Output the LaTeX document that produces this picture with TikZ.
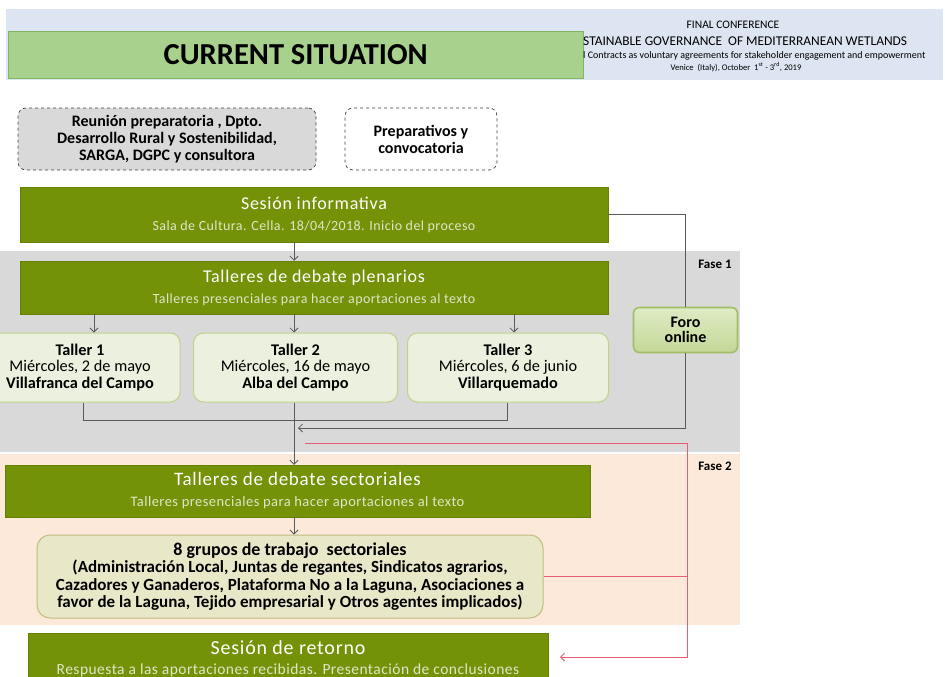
\documentclass[tikz,border=0pt]{standalone}
\usepackage{fontspec}
\setmainfont{Carlito}
\newfontfamily\spc[LetterSpace=4]{Carlito}
\newfontfamily\spcs[LetterSpace=3]{Carlito}
\usetikzlibrary{arrows.meta}
\definecolor{headerBG}{RGB}{220,229,241}
\definecolor{hdrG}{RGB}{169,209,142}
\definecolor{hdrB}{RGB}{130,180,100}
\definecolor{oliveG}{RGB}{116,146,8}
\definecolor{oliveB}{RGB}{100,130,0}
\definecolor{subG}{RGB}{222,230,200}
\definecolor{faseA}{RGB}{217,217,217}
\definecolor{faseB}{RGB}{252,233,218}
\definecolor{tallerF}{RGB}{235,241,222}
\definecolor{tallerB}{RGB}{190,210,140}
\definecolor{grpF}{RGB}{232,231,200}
\definecolor{grpB}{RGB}{190,190,130}
\definecolor{foroT}{RGB}{222,235,196}
\definecolor{foroM}{RGB}{196,216,152}
\definecolor{foroB}{RGB}{160,190,100}
\definecolor{redL}{RGB}{228,96,112}
\definecolor{lineG}{RGB}{90,90,90}
\definecolor{dashF}{RGB}{217,217,217}
\begin{document}
\begin{tikzpicture}[x=1pt,y=-1pt,
  greenbox/.style={rectangle, fill=oliveG, draw=oliveB, line width=0.5pt, text=white, align=center, inner sep=0pt, font=\fontsize{14}{21}\selectfont},
  tallerbox/.style={rectangle, rounded corners=10pt, fill=tallerF, draw=tallerB, line width=1pt, align=center, inner sep=0pt, font=\fontsize{16.3}{16.5}\selectfont},
  dashbox/.style={rectangle, rounded corners=8pt, draw=black!75, dashed, line width=0.7pt, align=center, inner sep=0pt, font=\bfseries\fontsize{16}{17}\selectfont},
  conn/.style={draw=lineG, line width=0.9pt},
  arr/.style={conn, -{Straight Barb[length=4pt,width=8pt,line width=0.8pt]}},
  redc/.style={draw=redL, line width=1pt},
  redarr/.style={redc, -{Straight Barb[length=4pt,width=8pt,line width=0.9pt]}},
  faselbl/.style={font=\bfseries\fontsize{13}{14}\selectfont, inner sep=0pt}
]
\useasboundingbox (0,0) rectangle (945,677);
% header
\fill[headerBG] (6,9) rectangle (943,80);
\node[draw=hdrB, fill=hdrG, minimum width=575pt, minimum height=47pt, anchor=north west, inner sep=0pt, font=\bfseries\fontsize{30.5}{32}\selectfont] (cur) at (8,31) {CURRENT SITUATION};
\node[font=\fontsize{11.5}{12}\selectfont, inner sep=0pt] (fc) at (733,25) {FINAL CONFERENCE};
\node[anchor=west, font=\fontsize{13.4}{14}\selectfont, inner sep=0pt] (sg) at (583,41) {STAINABLE GOVERNANCE\ \ OF MEDITERRANEAN WETLANDS};
\node[anchor=west, font=\fontsize{10}{11}\selectfont, inner sep=0pt] (ct) at (583,56) {l Contracts as voluntary agreements for stakeholder engagement and empowerment};
\node[font=\fontsize{8.6}{9}\selectfont, inner sep=0pt] (vn) at (736,67) {Venice\ \ (Italy), October\ \ 1\textsuperscript{st} - 3\textsuperscript{rd}, 2019};
% phase bands
\fill[faseA] (0,251) rectangle (740,452);
\fill[faseB] (0,454) rectangle (740,625);
\node[faselbl] (f1) at (715,264) {Fase 1};
\node[faselbl] (f2) at (715,466) {Fase 2};
% dashed boxes
\node[dashbox, fill=dashF, minimum width=298pt, minimum height=62pt] (reu) at (167,139) {Reunión preparatoria , Dpto.\\Desarrollo Rural y Sostenibilidad,\\SARGA, DGPC y consultora};
\node[dashbox, fill=white, minimum width=152pt, minimum height=62pt] (prep) at (421,139) {Preparativos y\\convocatoria};
% green boxes
\node[greenbox, minimum width=588pt, minimum height=55pt] (ses) at (314,214.5) {{\spc\fontsize{18}{20}\selectfont Sesión informativa}\\{\spcs\color{subG}\fontsize{14}{15}\selectfont Sala de Cultura. Cella. 18/04/2018. Inicio del proceso}};
\node[greenbox, minimum width=588pt, minimum height=53pt] (plen) at (314,287.5) {{\spc\fontsize{18}{20}\selectfont Talleres de debate plenarios}\\{\spcs\color{subG}\fontsize{14}{15}\selectfont Talleres presenciales para hacer aportaciones al texto}};
\node[greenbox, minimum width=585pt, minimum height=52pt] (sect) at (297.5,491) {{\spc\fontsize{19}{20}\selectfont Talleres de debate sectoriales}\\{\spcs\color{subG}\fontsize{14.5}{15}\selectfont Talleres presenciales para hacer aportaciones al texto}};
\node[greenbox, minimum width=520pt, minimum height=52pt, font=\fontsize{14}{20}\selectfont] (ret) at (288,659) {{\spc\fontsize{20}{20}\selectfont Sesión de retorno}\\{\spcs\color{subG}\fontsize{15.5}{15}\selectfont Respuesta a las aportaciones recibidas. Presentación de conclusiones}};
% talleres
\node[tallerbox, minimum width=200pt, minimum height=69pt] (t1) at (80,367.5) {\textbf{Taller 1}\\Miércoles, 2 de mayo\\\textbf{Villafranca del Campo}};
\node[tallerbox, minimum width=204pt, minimum height=69pt] (t2) at (295.5,367.5) {\textbf{Taller 2}\\Miércoles, 16 de mayo\\\textbf{Alba del Campo}};
\node[tallerbox, minimum width=201pt, minimum height=69pt] (t3) at (508,367.5) {\textbf{Taller 3}\\Miércoles, 6 de junio\\\textbf{Villarquemado}};
% foro
\node[rectangle, rounded corners=6pt, top color=foroT, bottom color=foroM, draw=foroB, line width=1.6pt, minimum width=104pt, minimum height=45pt, align=center, inner sep=0pt, font=\bfseries\fontsize{16}{15}\selectfont] (foro) at (685.5,330) {Foro\\online};
% 8 grupos
\node[rectangle, rounded corners=13pt, fill=grpF, draw=grpB, line width=1pt, minimum width=506pt, minimum height=83pt, align=center, inner sep=0pt, font=\bfseries\fontsize{17}{17.5}\selectfont] (grp) at (290,576.5) {{\fontsize{18}{17.5}\selectfont 8 grupos de trabajo\ \ sectoriales}\\(Administración Local, Juntas de regantes, Sindicatos agrarios,\\Cazadores y Ganaderos, Plataforma No a la Laguna, Asociaciones a\\favor de la Laguna, Tejido empresarial y Otros agentes implicados)};
% coordinates
\coordinate (xm) at (294,0);
\coordinate (x1) at (94,0);
\coordinate (x3) at (514,0);
\coordinate (q1) at (83,0);
\coordinate (q3) at (507,0);
\coordinate (jn) at (0,420);
\coordinate (fin) at (298,428);
\coordinate (r0) at (305,443);
\coordinate (r1) at (687,443);
\coordinate (rend) at (560,657);
% connectors
\draw[arr] (xm |- ses.south) -- (xm |- plen.north);
\draw[conn] (ses.east) -| (foro.north);
\draw[arr] (x1 |- plen.south) -- (x1 |- t1.north);
\draw[arr] (xm |- plen.south) -- (xm |- t2.north);
\draw[arr] (x3 |- plen.south) -- (x3 |- t3.north);
\draw[conn] (q1 |- t1.south) -- (q1 |- jn) -- (q3 |- jn) -- (q3 |- t3.south);
\draw[arr] (xm |- t2.south) -- (xm |- sect.north);
\draw[arr] (foro.south) |- (fin);
\draw[arr] (xm |- sect.south) -- (xm |- grp.north);
\draw[redarr] (r0) -- (r1) -- (r1 |- rend) -- (rend);
\draw[redc] (grp.east) -- (r1 |- grp.east);
\end{tikzpicture}
\end{document}
